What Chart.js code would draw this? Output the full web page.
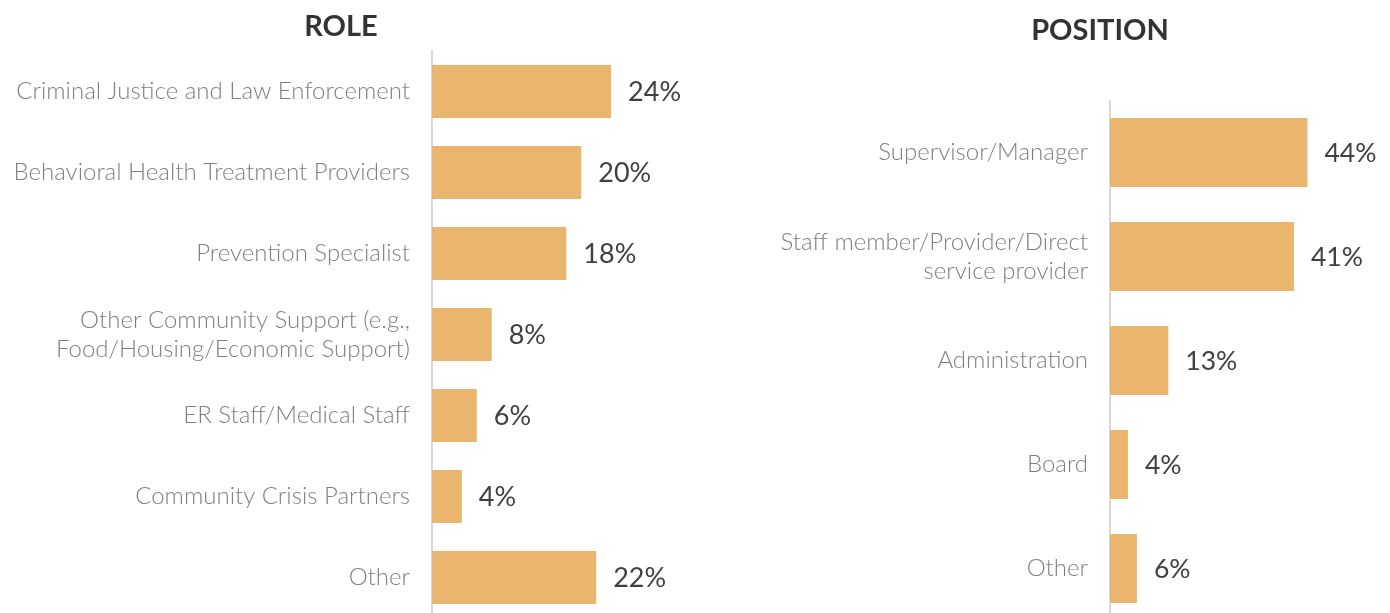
<!DOCTYPE html>
<html>
<head>
<meta charset="utf-8">
<script src="https://cdn.jsdelivr.net/npm/chart.js@4.4.1/dist/chart.umd.min.js"></script>
<style>
  html, body { margin: 0; padding: 0; background: #ffffff; overflow: hidden; }
  #wrap { position: relative; width: 1390px; height: 613px; overflow: hidden; }
  #roleChart { position: absolute; left: 0; top: 0; }
  #positionChart { position: absolute; left: 740px; top: 0; }
</style>
</head>
<body>
<div id="wrap">
  <canvas id="roleChart" width="700" height="620"></canvas>
  <canvas id="positionChart" width="730" height="624"></canvas>
</div>
<script>
// Survey respondents by role
const roleLabels = [
  'Criminal Justice and Law Enforcement',
  'Behavioral Health Treatment Providers',
  'Prevention Specialist',
  ['Other Community Support (e.g.,', 'Food/Housing/Economic Support)'],
  'ER Staff/Medical Staff',
  'Community Crisis Partners',
  'Other'
];
const roleValues = [24, 20, 18, 8, 6, 4, 22];

// Survey respondents by position
const positionLabels = [
  'Supervisor/Manager',
  ['Staff member/Provider/Direct', 'service provider'],
  'Administration',
  'Board',
  'Other'
];
const positionValues = [44, 41, 13, 4, 6];

const BAR_COLOR = '#EAB56F';
const VALUE_COLOR = '#404040';
const LABEL_COLOR = '#7F7F7F';
const AXIS_COLOR = '#D9D9D9';

// Writes "NN%" just past the end of each bar
const valueLabels = {
  id: 'valueLabels',
  afterDatasetsDraw(chart, args, opts) {
    const ctx = chart.ctx;
    const meta = chart.getDatasetMeta(0);
    const data = chart.data.datasets[0].data;
    ctx.save();
    ctx.font = '400 ' + opts.size + 'px Lato';
    ctx.fillStyle = VALUE_COLOR;
    ctx.textAlign = 'left';
    ctx.textBaseline = 'middle';
    meta.data.forEach((bar, i) => {
      ctx.fillText(data[i] + '%', bar.x + opts.offset, bar.y + 1);
    });
    ctx.restore();
  }
};

function makeChart(id, labels, values, cfg) {
  return new Chart(document.getElementById(id), {
    type: 'bar',
    data: {
      labels: labels,
      datasets: [{
        data: values,
        backgroundColor: BAR_COLOR,
        borderWidth: 0,
        categoryPercentage: 1,
        barPercentage: cfg.barPct
      }]
    },
    options: {
      indexAxis: 'y',
      responsive: false,
      animation: false,
      devicePixelRatio: 1,
      layout: { padding: cfg.padding },
      scales: {
        x: {
          display: false,
          min: 0,
          max: cfg.xMax
        },
        y: {
          grid: { display: false, drawTicks: false },
          border: { display: true, color: AXIS_COLOR, width: 2 },
          ticks: {
            color: LABEL_COLOR,
            padding: 22,
            font: { family: 'Lato', size: 24, weight: '300', lineHeight: 1.2 }
          },
          afterFit(scale) {
            // fixed label column; bands run the full plot height
            scale.width = cfg.axisWidth;
            scale.paddingTop = 0;
            scale.paddingBottom = 0;
          }
        }
      },
      plugins: {
        legend: { display: false },
        tooltip: { enabled: false },
        title: {
          display: true,
          text: cfg.title,
          color: '#333333',
          font: { family: 'Lato', size: 29, weight: '700', lineHeight: 1.2 },
          padding: cfg.titlePadding
        },
        valueLabels: { size: cfg.valueSize, offset: 17 }
      }
    },
    plugins: [valueLabels]
  });
}

makeChart('roleChart', roleLabels, roleValues, {
  title: 'ROLE',
  xMax: 33.5,
  barPct: 0.655,
  axisWidth: 432,
  valueSize: 27,
  padding: { left: 0, right: 18, top: 0, bottom: 2 },
  titlePadding: { top: 9.6, bottom: 6.6 }
});

makeChart('positionChart', positionLabels, positionValues, {
  title: 'POSITION',
  xMax: 78,
  barPct: 0.663,
  axisWidth: 370,
  valueSize: 26.5,
  padding: { left: 0, right: 10, top: 0, bottom: 3.5 },
  titlePadding: { top: 13.6, bottom: 52.1 }
});
</script>
</body>
</html>
